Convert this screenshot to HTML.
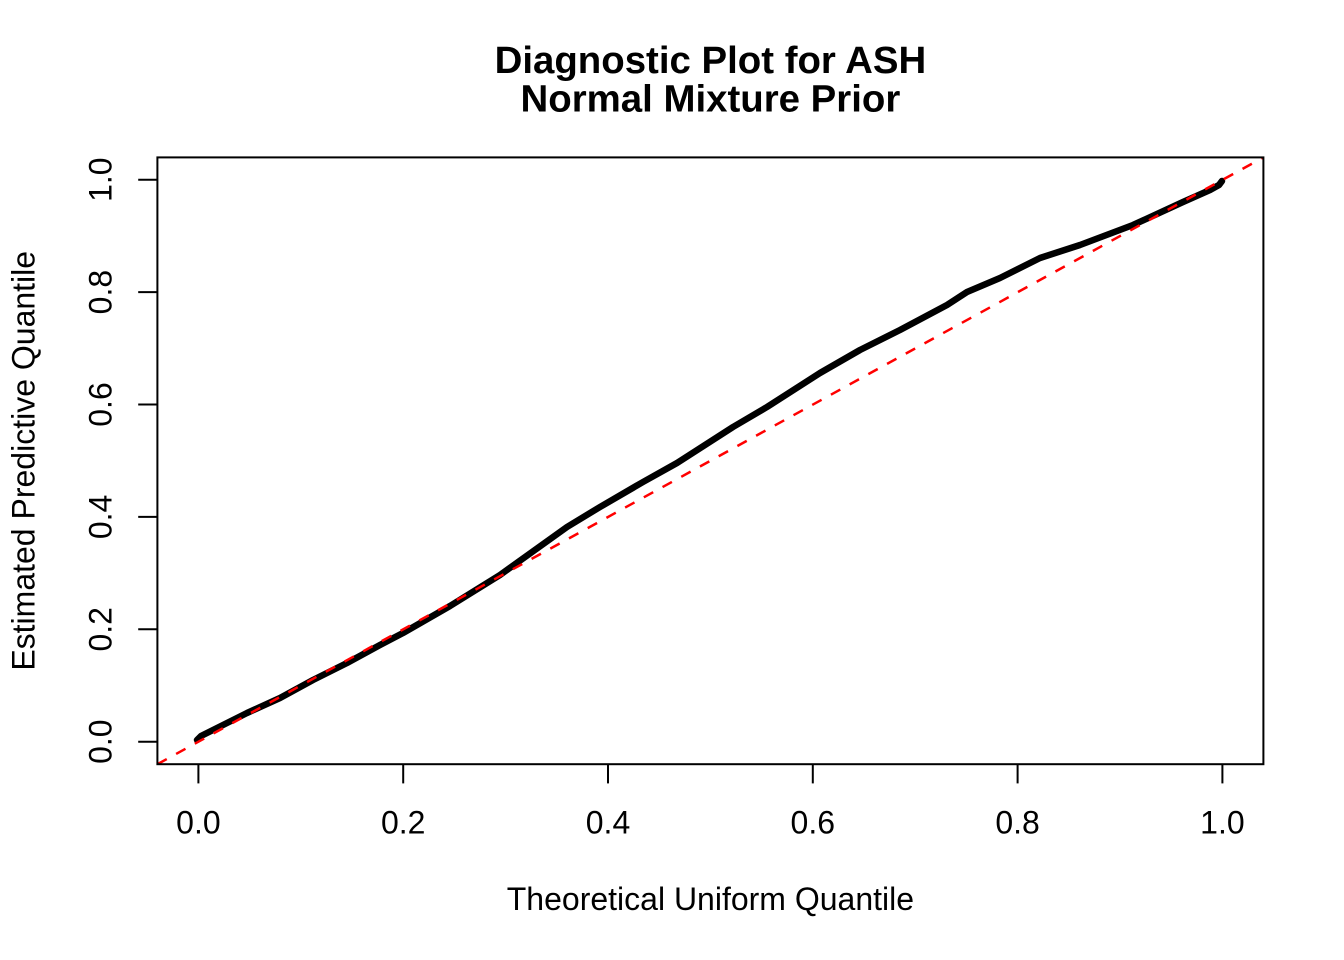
<!DOCTYPE html>
<html>
<head>
<meta charset="utf-8">
<style>
  html, body { margin: 0; padding: 0; background: #ffffff; }
  svg { display: block; }
  text { font-family: "Liberation Sans", Arial, Helvetica, sans-serif; fill: #000; }
</style>
</head>
<body>
<svg width="1344" height="960" viewBox="0 0 1344 960" xmlns="http://www.w3.org/2000/svg">
  <rect x="0" y="0" width="1344" height="960" fill="#ffffff"/>

  <!-- Title -->
  <text x="710.4" y="73" font-size="38.4" font-weight="bold" text-anchor="middle">Diagnostic Plot for ASH</text>
  <text x="710.4" y="111.5" font-size="38.4" font-weight="bold" text-anchor="middle">Normal Mixture Prior</text>

  <defs>
    <clipPath id="plotclip">
      <rect x="157.4" y="157.4" width="1106" height="606.8"/>
    </clipPath>
  </defs>

  <!-- Data curve -->
  <g clip-path="url(#plotclip)">
    <polyline fill="none" stroke="#000" stroke-width="6.5" stroke-linejoin="round" stroke-linecap="round"
      points="197,740 201,736 213,730 247,713 280,698 313,680 347,663 380,645 403,633 450,606 500,575 567,527 600,507 643,482 677,463 733,427 767,407 820,373 860,350 900,330 947,305 967,292 1000,278 1040,258 1080,245 1133,225 1183,202 1210,190 1219,185 1222,181"/>
    <!-- y = x reference line -->
    <line x1="157.4" y1="764.2" x2="1263.4" y2="157.4" stroke="#ff0000" stroke-width="2.5" stroke-dasharray="10.67 10.67"/>
  </g>

  <!-- Plot box -->
  <rect x="157.4" y="157.4" width="1106" height="606.8" fill="none" stroke="#000" stroke-width="2"/>

  <!-- X axis ticks -->
  <g stroke="#000" stroke-width="2">
    <line x1="198.4" y1="764.2" x2="198.4" y2="783.4"/>
    <line x1="403.2" y1="764.2" x2="403.2" y2="783.4"/>
    <line x1="608.0" y1="764.2" x2="608.0" y2="783.4"/>
    <line x1="812.8" y1="764.2" x2="812.8" y2="783.4"/>
    <line x1="1017.6" y1="764.2" x2="1017.6" y2="783.4"/>
    <line x1="1222.4" y1="764.2" x2="1222.4" y2="783.4"/>
  </g>
  <g font-size="32" text-anchor="middle">
    <text x="198.4" y="833.3">0.0</text>
    <text x="403.2" y="833.3">0.2</text>
    <text x="608.0" y="833.3">0.4</text>
    <text x="812.8" y="833.3">0.6</text>
    <text x="1017.6" y="833.3">0.8</text>
    <text x="1222.4" y="833.3">1.0</text>
  </g>

  <!-- Y axis ticks -->
  <g stroke="#000" stroke-width="2">
    <line x1="157.4" y1="741.7" x2="138.2" y2="741.7"/>
    <line x1="157.4" y1="629.3" x2="138.2" y2="629.3"/>
    <line x1="157.4" y1="516.9" x2="138.2" y2="516.9"/>
    <line x1="157.4" y1="404.5" x2="138.2" y2="404.5"/>
    <line x1="157.4" y1="292.1" x2="138.2" y2="292.1"/>
    <line x1="157.4" y1="179.7" x2="138.2" y2="179.7"/>
  </g>
  <g font-size="32" text-anchor="middle">
    <text transform="translate(111.3,741.7) rotate(-90)">0.0</text>
    <text transform="translate(111.3,629.3) rotate(-90)">0.2</text>
    <text transform="translate(111.3,516.9) rotate(-90)">0.4</text>
    <text transform="translate(111.3,404.5) rotate(-90)">0.6</text>
    <text transform="translate(111.3,292.1) rotate(-90)">0.8</text>
    <text transform="translate(111.3,179.7) rotate(-90)">1.0</text>
  </g>

  <!-- Axis titles -->
  <text x="710.4" y="910.1" font-size="32" text-anchor="middle">Theoretical Uniform Quantile</text>
  <text transform="translate(34.5,460.8) rotate(-90)" font-size="32" text-anchor="middle">Estimated Predictive Quantile</text>
</svg>
</body>
</html>
